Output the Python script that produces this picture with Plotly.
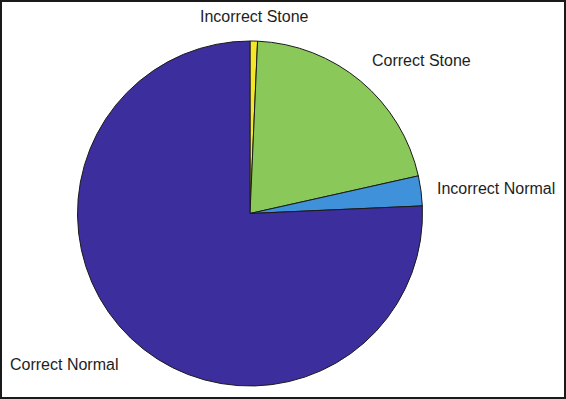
import plotly.graph_objects as go

# Data (percent of cases)
categories = ["Incorrect Stone", "Correct Stone", "Incorrect Normal", "Correct Normal"]
values = [0.7, 20.8, 2.8, 75.7]
colors = ["#f5e62a", "#8bc85a", "#3f92d9", "#3d2e9e"]

W, H = 566, 399
cx, cy, r = 250, 213.5, 172.5

fig = go.Figure(go.Pie(
    labels=categories,
    values=values,
    sort=False,
    direction="clockwise",
    rotation=0,
    textinfo="none",
    hoverinfo="label+percent",
    marker=dict(colors=colors, line=dict(color="#1a1a1a", width=1)),
    domain=dict(x=[(cx - r) / W, (cx + r) / W], y=[(H - cy - r) / H, (H - cy + r) / H]),
    showlegend=False,
))

# label positions in pixels (x center, y center)
label_pos = [(254, 16), (421, 60), (496, 188), (64, 364)]
for name, (lx, ly) in zip(categories, label_pos):
    fig.add_annotation(
        x=lx / W, y=1 - ly / H, xref="paper", yref="paper",
        text=name, showarrow=False, xanchor="center", yanchor="middle",
        font=dict(family="Liberation Sans, Arial, sans-serif", size=16, color="#1e1e1e"),
    )

fig.add_shape(type="rect", xref="paper", yref="paper", x0=0, y0=0, x1=1, y1=1,
              line=dict(color="#1a1a1a", width=4))

fig.update_layout(
    width=W, height=H,
    margin=dict(l=0, r=0, t=0, b=0),
    paper_bgcolor="white", plot_bgcolor="white",
)

fig.write_html("out.html")
